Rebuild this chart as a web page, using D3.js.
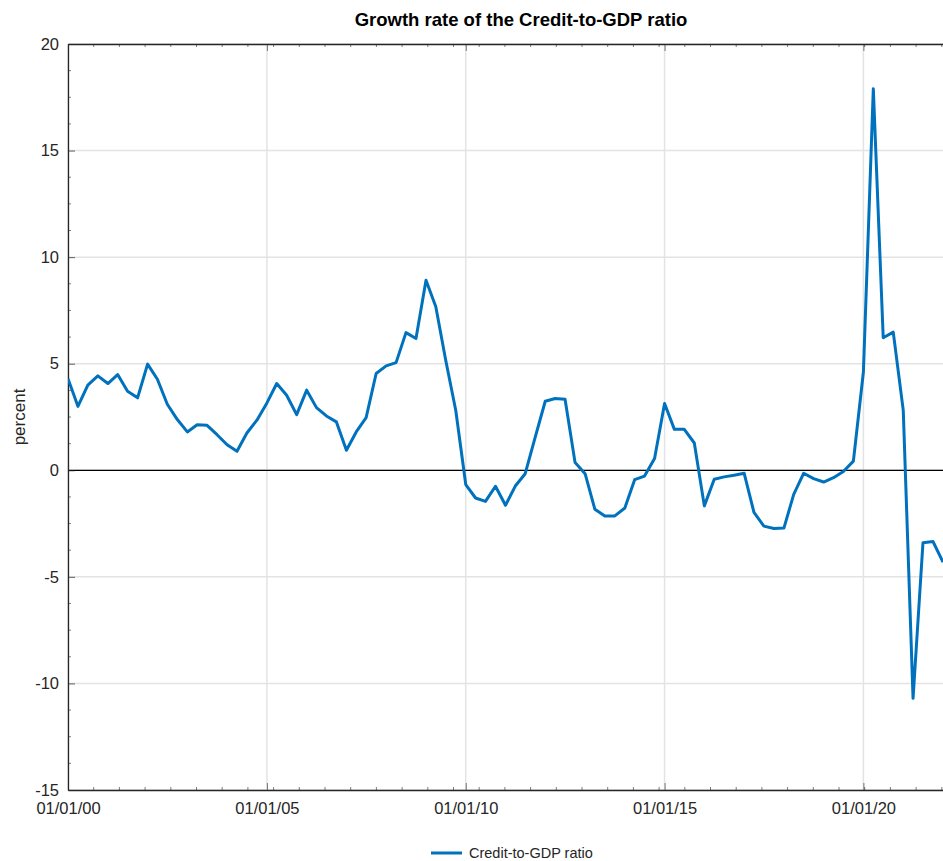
<!DOCTYPE html>
<html>
<head>
<meta charset="utf-8">
<script src="https://cdn.jsdelivr.net/npm/d3@7"></script>
<style>
  html, body { margin: 0; padding: 0; background: #fff; }
  svg { display: block; font-family: "Liberation Sans", Arial, sans-serif; }
</style>
</head>
<body>
<svg id="chart" width="943" height="861"></svg>
<script>
// ---- data (quarterly, starting 2000 Q1) ----
const startYear = 2000;
const values = [
  4.30, 3.00, 4.00, 4.43,
  4.07, 4.49, 3.71, 3.40,
  4.98, 4.27, 3.10, 2.38,
  1.80, 2.14, 2.11, 1.67,
  1.20, 0.89, 1.75, 2.35,
  3.16, 4.07, 3.52, 2.61,
  3.76, 2.94, 2.55, 2.27,
  0.94, 1.80, 2.47, 4.54,
  4.90, 5.05, 6.46, 6.18,
  8.92, 7.67, 5.16, 2.82,
  -0.67, -1.30, -1.46, -0.75,
  -1.64, -0.74, -0.16, 1.56,
  3.24, 3.37, 3.33, 0.36,
  -0.16, -1.83, -2.14, -2.14,
  -1.77, -0.44, -0.27, 0.55,
  3.13, 1.92, 1.92, 1.28,
  -1.67, -0.42, -0.31, -0.23,
  -0.14, -1.98, -2.62, -2.73,
  -2.71, -1.13, -0.14, -0.39,
  -0.55, -0.35, -0.06, 0.43,
  4.61, 17.90, 6.22, 6.48,
  2.81, -10.70, -3.40, -3.34,
  -4.31
];
const dates = values.map((v, i) => new Date(startYear + Math.floor(i / 4), (i % 4) * 3, 1));
const xTickDates = [2000, 2005, 2010, 2015, 2020].map(y => new Date(y, 0, 1));
const xTickLabels = ["01/01/00", "01/01/05", "01/01/10", "01/01/15", "01/01/20"];
const yTicks = [-15, -10, -5, 0, 5, 10, 15, 20];
const yTickLabels = ["-15", "-10", "-5", "0", "5", "10", "15", "20"];
const titleText = "Growth rate of the Credit-to-GDP ratio";
const yLabel = "percent";
const seriesName = "Credit-to-GDP ratio";

// ---- layout ----
const m = { left: 68, right: 943, top: 44, bottom: 790 };
const svg = d3.select("#chart");

const x = d3.scaleTime()
  .domain([new Date(2000, 0, 1), new Date(2022, 0, 1)])
  .range([m.left, m.right]);
const y = d3.scaleLinear().domain([-15, 20]).range([m.bottom, m.top]);

const gridColor = "#e3e3e3";
const axisColor = "#262626";
const lineColor = "#0072BD";
const fontFam = "Liberation Sans, Arial, sans-serif";

// clip
svg.append("defs").append("clipPath").attr("id", "clip")
  .append("rect").attr("x", m.left).attr("y", m.top)
  .attr("width", m.right - m.left).attr("height", m.bottom - m.top);

// grid
const grid = svg.append("g");
grid.selectAll(".vg").data(xTickDates).join("line")
  .attr("x1", d => x(d)).attr("x2", d => x(d))
  .attr("y1", m.top).attr("y2", m.bottom)
  .attr("stroke", gridColor).attr("stroke-width", 1.5);
grid.selectAll(".hg").data(yTicks).join("line")
  .attr("x1", m.left).attr("x2", m.right)
  .attr("y1", d => y(d)).attr("y2", d => y(d))
  .attr("stroke", gridColor).attr("stroke-width", 1.5);

// zero line
svg.append("line")
  .attr("x1", m.left).attr("x2", m.right)
  .attr("y1", y(0)).attr("y2", y(0))
  .attr("stroke", "#000").attr("stroke-width", 1.2);

// axes (ticks inward)
const xBottom = d3.axisBottom(x).tickValues(xTickDates).tickFormat((d, i) => xTickLabels[i])
  .tickSizeInner(-7).tickSizeOuter(0).tickPadding(12);
const gxb = svg.append("g").attr("transform", `translate(0,${m.bottom})`).call(xBottom);
gxb.select(".domain").attr("stroke", axisColor).attr("stroke-width", 1.3);
gxb.selectAll(".tick line").attr("stroke", axisColor).attr("stroke-opacity", 0.6);
gxb.selectAll("text").attr("font-size", 16.5).attr("fill", "#262626").attr("font-family", fontFam);

const xTop = d3.axisTop(x).tickValues(xTickDates).tickFormat("")
  .tickSizeInner(-7).tickSizeOuter(0);
const gxt = svg.append("g").attr("transform", `translate(0,${m.top})`).call(xTop);
gxt.select(".domain").attr("stroke", axisColor).attr("stroke-width", 1.3);
gxt.selectAll(".tick line").attr("stroke", axisColor).attr("stroke-opacity", 0.6);

const yLeft = d3.axisLeft(y).tickValues(yTicks).tickFormat((d, i) => yTickLabels[i])
  .tickSizeInner(-7).tickSizeOuter(0).tickPadding(9);
const gyl = svg.append("g").attr("transform", `translate(${m.left},0)`).call(yLeft);
gyl.select(".domain").attr("stroke", axisColor).attr("stroke-width", 1.3);
gyl.selectAll(".tick line").attr("stroke", axisColor).attr("stroke-opacity", 0.7);
gyl.selectAll("text").attr("font-size", 16.5).attr("fill", "#262626").attr("font-family", fontFam);

// minor ticks
const minor = svg.append("g").attr("stroke", axisColor).attr("stroke-opacity", 0.6);
const xMinor = d3.range(m.left, m.right, 25.7).slice(1);
minor.selectAll(".mxb").data(xMinor).join("line")
  .attr("x1", d => d).attr("x2", d => d).attr("y1", m.bottom).attr("y2", m.bottom - 3);
minor.selectAll(".mxt").data(xMinor).join("line")
  .attr("x1", d => d).attr("x2", d => d).attr("y1", m.top).attr("y2", m.top + 3);
const yMinor = d3.range(-15, 20, 1.25).filter(v => v % 5 !== 0);
minor.selectAll(".my").data(yMinor).join("line")
  .attr("x1", m.left).attr("x2", m.left + 3).attr("y1", d => y(d)).attr("y2", d => y(d));

// line
const line = d3.line().x((d, i) => x(dates[i])).y(d => y(d));
svg.append("path").datum(values)
  .attr("clip-path", "url(#clip)")
  .attr("fill", "none").attr("stroke", lineColor)
  .attr("stroke-width", 3).attr("stroke-linejoin", "round")
  .attr("d", line);

// title
svg.append("text").attr("x", 521).attr("y", 26)
  .attr("text-anchor", "middle").attr("font-weight", "bold")
  .attr("font-size", 18.5).attr("fill", "#000").text(titleText);

// y label
svg.append("text")
  .attr("transform", `translate(25,${(m.top + m.bottom) / 2}) rotate(-90)`)
  .attr("text-anchor", "middle").attr("font-size", 17).attr("fill", "#262626")
  .text(yLabel);

// legend
const lg = svg.append("g");
lg.append("line").attr("x1", 431).attr("x2", 462).attr("y1", 853).attr("y2", 853)
  .attr("stroke", lineColor).attr("stroke-width", 3);
lg.append("text").attr("x", 469).attr("y", 858).attr("font-size", 14.5)
  .attr("fill", "#262626").text(seriesName);
</script>
</body>
</html>
